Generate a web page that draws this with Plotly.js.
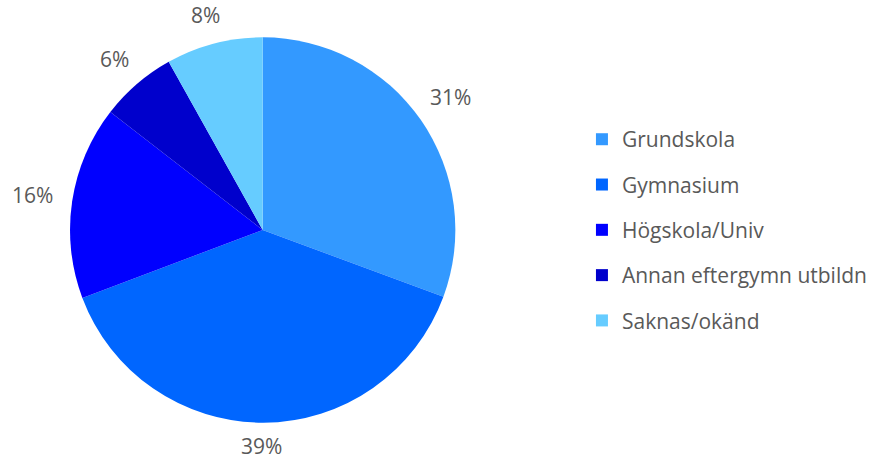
<!DOCTYPE html>
<html><head><meta charset="utf-8">
<script src="https://cdn.plot.ly/plotly-3.0.1.min.js"></script>
<style>html,body{margin:0;padding:0;background:#fff}#c{width:872px;height:462px}</style>
</head><body><div id="c"></div>
<script>
const labels = ["Grundskola", "Gymnasium", "Högskola/Univ", "Annan eftergymn utbildn", "Saknas/okänd"];
const values = [30.6, 38.6, 16.2, 6.4, 8.1];
const colors = ["#3399FF", "#0066FF", "#0000FF", "#0000CC", "#66CCFF"];

const W = 872, H = 462;
const font = "Open Sans, Liberation Sans, sans-serif";
const cx = 263, cy = 230, R = 193, Rd = 194;
const dom = {x: [(cx + 1.5 - Rd) / W, (cx + 1.5 + Rd) / W], y: [(H - cy - Rd) / H, (H - cy + Rd) / H]};

const traces = [{
  type: "pie", labels: labels, values: values, sort: false, direction: "clockwise", rotation: 0,
  marker: {colors: colors, line: {width: 0}},
  textinfo: "none", showlegend: false, hoverinfo: "label+percent",
  domain: dom
}];
labels.forEach((l, i) => traces.push({
  type: "scatter", x: [null], y: [null], mode: "markers", name: l, legendgroup: "g" + i,
  marker: {symbol: "square", size: 12, color: colors[i]}, xaxis: "x", yaxis: "y"
}));

// data labels placed outside each slice, from the slice mid-angle
const total = values.reduce((a, b) => a + b, 0);
const annotations = [];
let cum = 0;
values.forEach((v) => {
  const mid = (cum + v / 2) / total * 2 * Math.PI;
  cum += v;
  const txt = Math.round(v / total * 100) + "%";
  const s = Math.sin(mid), c = Math.cos(mid);
  const hw = txt.length * 6.8, hh = 7;
  const gap = 19 - 3 * Math.max(0, -c);
  const d = R + gap + Math.abs(s) * hw + Math.abs(c) * hh;
  const px = cx + d * s, py = cy - d * c;
  annotations.push({
    xref: "paper", yref: "paper", x: px / W, y: (H - py) / H, xanchor: "center", yanchor: "middle",
    text: txt, showarrow: false, font: {family: font, size: 21, color: "#595959"}
  });
});

const layout = {
  width: W, height: H, margin: {l: 0, r: 0, t: 0, b: 0},
  paper_bgcolor: "#fff", plot_bgcolor: "#fff",
  xaxis: {visible: false, domain: [0.9, 1]}, yaxis: {visible: false, domain: [0.9, 1]},
  showlegend: true, annotations: annotations,
  legend: {x: 0.672, y: 0.502, yanchor: "middle", xanchor: "left", tracegroupgap: 15,
    font: {family: font, size: 21, color: "#595959"}, itemwidth: 30, traceorder: "grouped"}
};
Plotly.newPlot("c", traces, layout, {displayModeBar: false, staticPlot: true});
</script></body></html>
